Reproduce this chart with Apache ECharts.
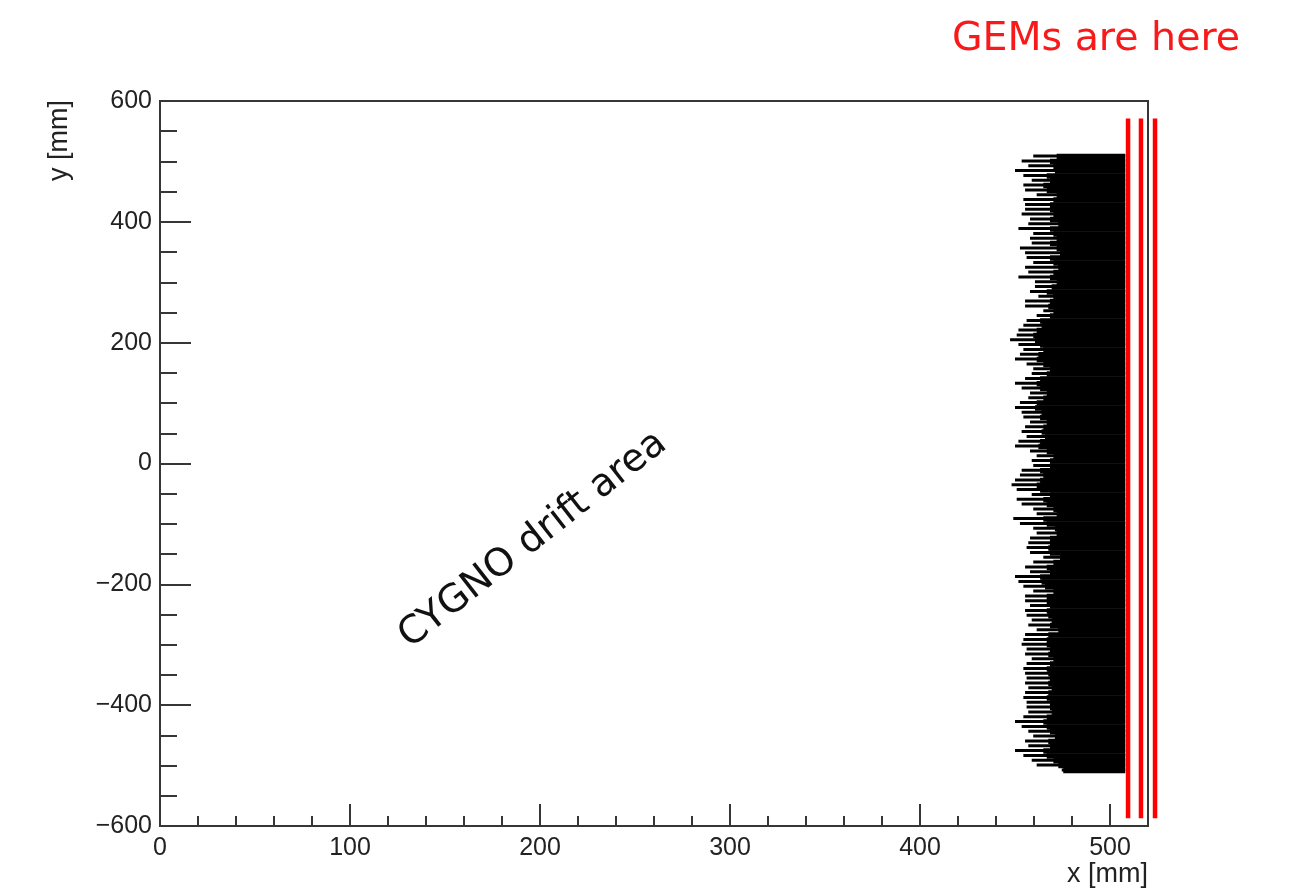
<!DOCTYPE html>
<html><head><meta charset="utf-8">
<script src="https://cdn.jsdelivr.net/npm/echarts@6/dist/echarts.min.js"></script>
<style>html,body{margin:0;padding:0;background:#fff}#c{width:1296px;height:888px}</style>
</head><body><div id="c"></div>
<script>
// ---- data ----
const xRange = [0, 520];
const yRange = [-600, 600];
const xMajorStep = 100, xMinorStep = 20;
const yMajorStep = 200;

// track rows (y position in mm), where the outermost track of each row starts (x in mm)
// and where the dense (fully black) part of each row starts (x in mm)
const trackY = [508,500,492,484,476,468,460,452,444,436,428,420,412,404,396,388,380,372,364,356,348,340,332,324,316,308,300,292,284,276,268,
260,252,244,236,228,220,212,204,196,188,180,172,164,156,148,140,132,124,116,108,100,92,84,76,68,60,52,44,36,28,20,12,4,-4,
-12,-20,-28,-36,-44,-52,-60,-68,-76,-84,-92,-100,-108,-116,-124,-132,-140,-148,-156,-164,-172,-180,-188,-196,-204,-212,-220,-228,-236,-244,-252,-260,-268,
-276,-284,-292,-300,-308,-316,-324,-332,-340,-348,-356,-364,-372,-380,-388,-396,-404,-412,-420,-428,-436,-444,-452,-460,-468,-476,-484,-492,-500,-508];
const trackStartX = [459.6,453.5,457,450,454.4,458.8,454.4,455.3,461.4,454.4,455.3,455.3,453.5,457.9,457,451.8,459.6,457.9,458.8,452.6,455.3,456.1,459.6,455.3,457,451.8,460.5,460.5,457.9,462.3,455.3,
455.3,464.9,461.4,456.1,454.4,451.8,450.9,447.4,451.8,454.4,452.6,450,456.1,459.6,458.8,455.3,450,453.5,457.9,457,452.6,450,453.5,454.4,457.9,455.3,453.5,456.1,451.8,450,457.9,461.4,458.8,459.6,
453.5,452.6,450,448.2,450.9,458.8,450.9,453.5,459.6,461.4,449.1,452.6,459.6,461.4,457.9,457,456.1,457.9,464.9,459.6,455.3,457.9,450,451.8,454.4,459.6,455.3,455.3,457.9,455.3,456.1,458.8,457,
461.4,455.3,454.4,453.5,456.1,455.3,458.8,456.1,454.4,455.3,456.1,455.3,457,455.3,454.4,456.1,456.1,457,454.4,450,453.5,457,459.6,455.3,457,450,454.4,458.8,461.4,474.6];
const trackCoreX = [471.9,468.4,470.2,471.0,466.7,468.4,464.9,466.7,471.9,470.2,468.4,468.4,470.2,468.4,472.8,468.4,470.2,471.9,468.4,471.9,473.7,468.4,470.2,472.8,470.2,468.4,471.9,469.3,466.7,470.2,468.4,
467.5,470.2,468.4,463.2,464.0,461.4,459.6,460.5,463.2,464.9,462.3,461.4,464.9,468.4,466.7,463.2,461.4,463.2,466.7,464.9,461.4,460.5,464.0,463.2,466.7,464.9,464.0,465.8,463.2,462.3,466.7,470.2,468.4,468.4,
463.2,464.9,463.2,461.4,463.2,468.4,464.9,466.7,470.2,471.9,464.9,466.7,471.0,471.9,468.4,468.4,467.5,468.4,473.7,470.2,466.7,468.4,463.2,464.0,465.8,470.2,466.7,466.7,468.4,466.7,467.5,469.3,468.4,
472.8,467.5,466.7,466.7,468.4,467.5,470.2,468.4,466.7,467.5,468.4,467.5,469.3,467.5,466.7,468.4,468.4,469.3,466.7,464.9,466.7,468.4,471.0,467.5,468.4,464.9,466.7,470.2,472.8,475.4];
const trackEndX = 508;
const trackRowHalf = 4;

// GEM planes (x in mm) and their drawn extent in y (mm)
const gemX = [509.5, 516.3, 523.7];
const gemYTop = 571, gemYBottom = -587;

const axisColor = '#363636';
const fmtY = v => v < 0 ? '\u2212' + Math.abs(v) : String(v);

const chart = echarts.init(document.getElementById('c'), null, {renderer: 'canvas'});
chart.setOption({
  animation: false,
  backgroundColor: '#ffffff',
  grid: {left: 160, right: 148, top: 101, bottom: 62, show: true, borderColor: axisColor, borderWidth: 2},
  xAxis: [{
    type: 'value', min: xRange[0], max: xRange[1], interval: xMajorStep,
    axisLine: {show: true, onZero: false, lineStyle: {color: axisColor, width: 2}},
    axisTick: {show: true, inside: true, length: 22, lineStyle: {color: axisColor, width: 2}},
    splitLine: {show: false},
    axisLabel: {show: true, margin: 10, color: '#222', fontFamily: 'Liberation Sans', fontSize: 25,
      formatter: v => (v % xMajorStep === 0 ? String(v) : '')}
  }, {
    type: 'value', min: xRange[0], max: xRange[1], interval: xMinorStep, position: 'bottom',
    axisLine: {show: false, onZero: false}, axisLabel: {show: false}, splitLine: {show: false},
    axisTick: {show: true, inside: true, length: 10, lineStyle: {color: axisColor, width: 2}}
  }],
  yAxis: [{
    type: 'value', min: yRange[0], max: yRange[1], interval: yMajorStep,
    axisLine: {show: true, onZero: false, lineStyle: {color: axisColor, width: 2}},
    axisTick: {show: true, inside: true, length: 31, lineStyle: {color: axisColor, width: 2}},
    minorTick: {show: true, splitNumber: 4, length: 17, lineStyle: {color: axisColor, width: 2}},
    splitLine: {show: false},
    axisLabel: {show: true, margin: 8, color: '#222', fontFamily: 'Liberation Sans', fontSize: 25, formatter: fmtY}
  }],
  graphic: [
    {type: 'text', x: 1096, y: 40, style: {text: 'GEMs are here', fill: '#f81a1a', font: '39.5px "DejaVu Sans"', textAlign: 'center', textVerticalAlign: 'middle'}},
    {type: 'text', x: 533, y: 540, rotation: 38 * Math.PI / 180, style: {text: 'CYGNO drift area', fill: '#111', font: '38.5px "DejaVu Sans"', textAlign: 'center', textVerticalAlign: 'middle'}},
    {type: 'text', x: 60, y: 100, rotation: Math.PI / 2, style: {text: 'y [mm]', fill: '#222', font: '27px "Liberation Sans"', textAlign: 'right', textVerticalAlign: 'middle'}},
    {type: 'text', x: 1148, y: 875, style: {text: 'x [mm]', fill: '#222', font: '27px "Liberation Sans"', textAlign: 'right', textVerticalAlign: 'middle'}}
  ],
  series: [{
    type: 'custom', xAxisIndex: 0, yAxisIndex: 0, clip: true,
    data: trackY.map((y, i) => [trackStartX[i], trackCoreX[i], trackEndX, y]),
    renderItem: (params, api) => {
      const y = api.value(3);
      const a0 = api.coord([api.value(0), y + trackRowHalf]);
      const mid = api.coord([api.value(1), y]);
      const b1 = api.coord([api.value(2), y - trackRowHalf]);
      const hRow = b1[1] - a0[1];
      return {type: 'group', children: [
        {type: 'rect', shape: {x: a0[0], y: a0[1] + 0.4, width: b1[0] - a0[0], height: hRow * 0.62}, style: {fill: '#000'}},
        {type: 'rect', shape: {x: mid[0], y: a0[1] - 0.3, width: b1[0] - mid[0], height: hRow + 0.6}, style: {fill: '#000'}}
      ]};
    }
  }, {
    type: 'custom', xAxisIndex: 0, yAxisIndex: 0, clip: false,
    data: gemX.map(x => [x, gemYTop, gemYBottom]),
    renderItem: (params, api) => {
      const a = api.coord([api.value(0), api.value(1)]);
      const b = api.coord([api.value(0), api.value(2)]);
      return {type: 'line', shape: {x1: a[0], y1: a[1], x2: b[0], y2: b[1]}, style: {stroke: '#ff0000', lineWidth: 4.5}};
    }
  }]
});
</script></body></html>
